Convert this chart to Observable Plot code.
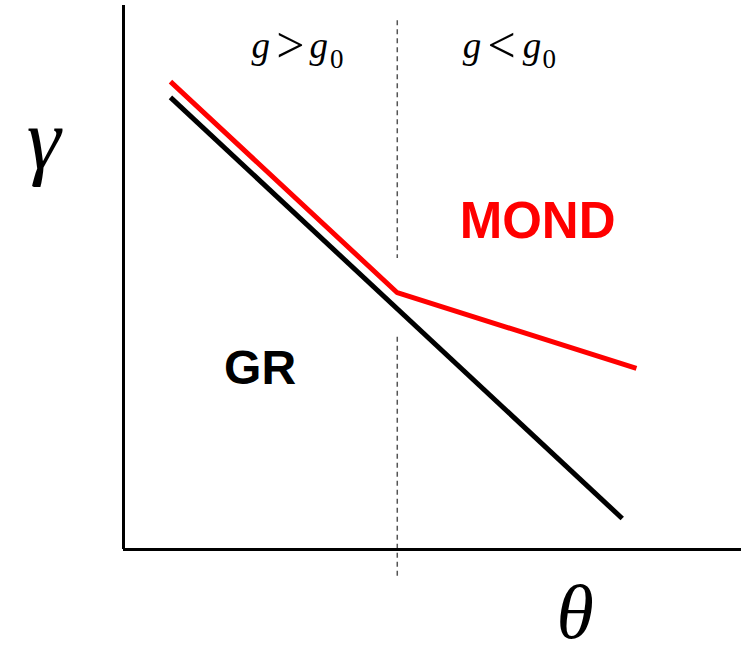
<!DOCTYPE html>
<html>
<head>
<meta charset="utf-8">
<script src="https://cdn.jsdelivr.net/npm/d3@7"></script>
<script src="https://cdn.jsdelivr.net/npm/@observablehq/plot@0.6"></script>
<style>
  html, body { margin: 0; padding: 0; background: #fff; }
  svg { display: block; overflow: visible; }
</style>
</head>
<body>
<div id="chart"></div>
<script>
// GR curve (black)
const grTheta = [0.76, 8.07];
const grGamma = [8.31, 0.57];
// MOND curve (red)
const mondTheta = [0.76, 4.43, 8.30];
const mondGamma = [8.60, 4.72, 3.33];
// transition g = g0
const boundaryTheta = 4.43;
const boundarySegments = [[9.72, 5.35], [3.90, -0.49]];

const gr = grTheta.map((t, i) => ({theta: t, gamma: grGamma[i]}));
const mond = mondTheta.map((t, i) => ({theta: t, gamma: mondGamma[i]}));
const segs = boundarySegments.map(([a, b]) => ({x: boundaryTheta, y1: a, y2: b}));

// region labels "g > g0" and "g < g0", glyph by glyph
const italicParts = [
  {x: 2.22, y: 9.03, text: "g"},
  {x: 3.16, y: 9.03, text: "g"},
  {x: 5.64, y: 9.03, text: "g"},
  {x: 6.61, y: 9.03, text: "g"}
];
const relationParts = [
  {x: 2.70, y: 8.96, text: ">"},
  {x: 6.12, y: 8.96, text: "<"}
];
const subscriptParts = [
  {x: 3.45, y: 8.86, text: "0"},
  {x: 6.89, y: 8.86, text: "0"}
];
const curveLabels = [
  {x: 6.70, y: 5.72, text: "MOND", color: "#ff0000", size: 51},
  {x: 2.21, y: 3.05, text: "GR", color: "#000000", size: 48}
];
const axisLabels = [
  {x: -1.29, y: 7.02, text: "γ", size: 86},
  {x: 7.31, y: -1.62, text: "θ", size: 76}
];

const serif = "'Liberation Serif', 'Times New Roman', Times, serif";

const chart = Plot.plot({
  width: 749,
  height: 654,
  marginLeft: 123,
  marginRight: 8,
  marginTop: 5,
  marginBottom: 105,
  x: {domain: [0, 10], axis: null},
  y: {domain: [0, 10], axis: null},
  marks: [
    Plot.ruleX(segs, {x: "x", y1: "y1", y2: "y2", stroke: "#555", strokeWidth: 1.5, strokeDasharray: "5,4"}),
    Plot.ruleX([0], {stroke: "#000", strokeWidth: 3}),
    Plot.ruleY([0], {stroke: "#000", strokeWidth: 3}),
    Plot.line(gr, {x: "theta", y: "gamma", stroke: "#000", strokeWidth: 5, strokeLinecap: "butt"}),
    Plot.line(mond, {x: "theta", y: "gamma", stroke: "#ff0000", strokeWidth: 5, strokeLinecap: "butt", strokeLinejoin: "miter"}),
    Plot.text(italicParts, {x: "x", y: "y", text: "text", lineAnchor: "bottom",
      fontFamily: serif, fontStyle: "italic", fontSize: 37, fill: "#000"}),
    Plot.text(relationParts, {x: "x", y: "y", text: "text", lineAnchor: "bottom",
      fontFamily: serif, fontSize: 50, fill: "#000"}),
    Plot.text(subscriptParts, {x: "x", y: "y", text: "text", lineAnchor: "bottom",
      fontFamily: serif, fontSize: 27, fill: "#000"}),
    Plot.text(curveLabels, {x: "x", y: "y", text: "text", fill: "color", fontSize: "size", lineAnchor: "bottom",
      fontFamily: "'Liberation Sans', Arial, sans-serif", fontWeight: "bold"}),
    Plot.text(axisLabels, {x: "x", y: "y", text: "text", fontSize: "size", lineAnchor: "bottom",
      fontFamily: serif, fontStyle: "italic", fill: "#000"})
  ]
});
chart.style.background = "#fff";
document.getElementById("chart").append(chart);
</script>
</body>
</html>
